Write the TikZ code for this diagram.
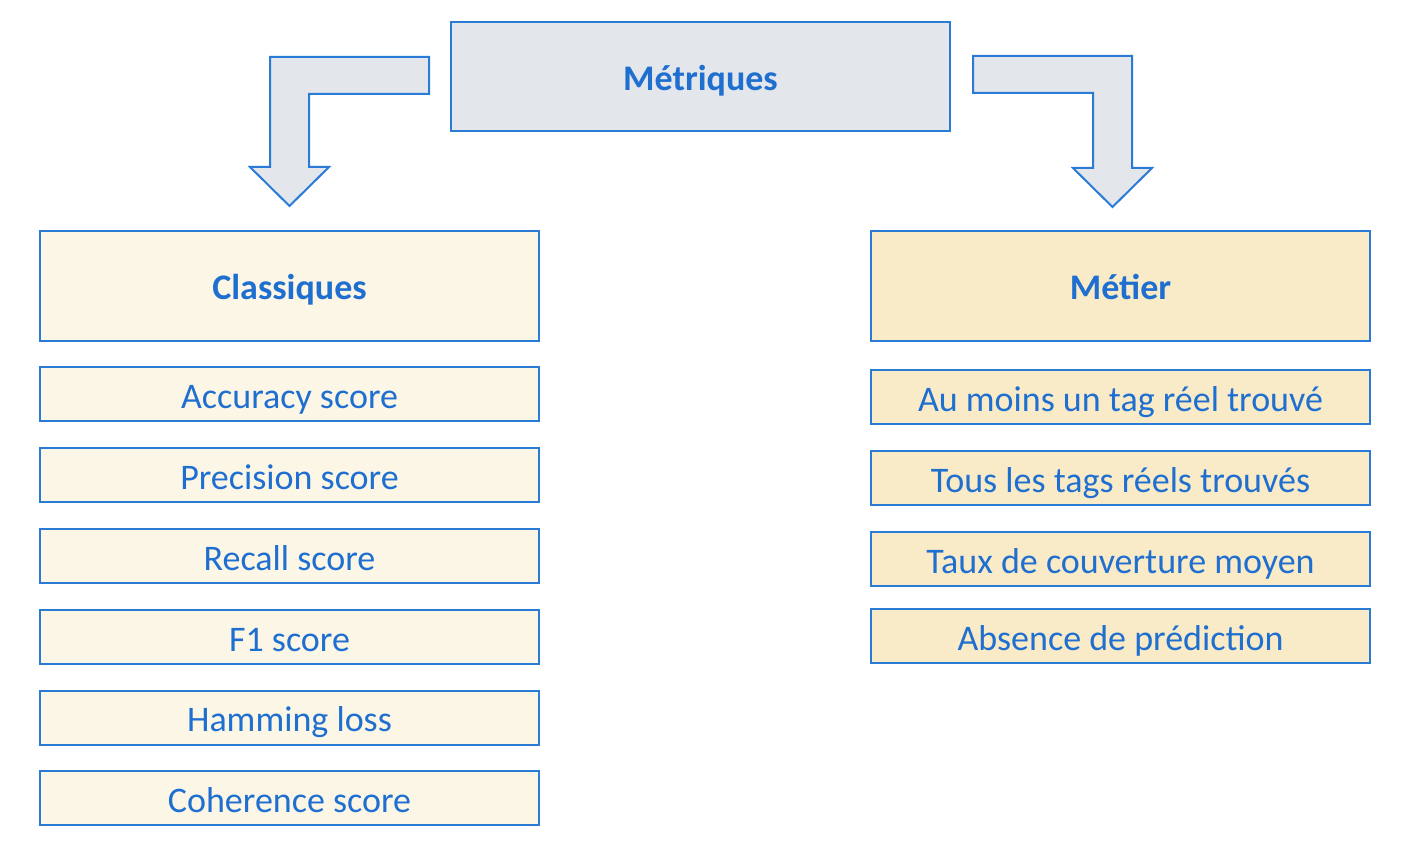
\documentclass[tikz,border=0pt]{standalone}
\usepackage{fontspec}
\setmainfont{Carlito}
\definecolor{bordc}{HTML}{2A7BD6}
\definecolor{txtc}{HTML}{1F6FD0}
\definecolor{grayf}{HTML}{E3E6EA}
\definecolor{lightf}{HTML}{FCF6E6}
\definecolor{darkf}{HTML}{FAEBC8}
\begin{document}
\begin{tikzpicture}[x=1pt,y=-1pt,
  box/.style={draw=bordc,line width=2pt,minimum width=499pt,text=txtc,inner sep=0pt},
  head/.style={box,minimum height=110pt,font=\fontsize{36}{42}\selectfont\bfseries,text height=27pt,text depth=0pt},
  item/.style={box,minimum height=54pt,font=\fontsize{36}{42}\selectfont,text height=28pt,text depth=0pt},
  bent/.style={draw=bordc,line width=2pt,fill=grayf,line join=miter}]
\useasboundingbox (0,0) rectangle (1403,856);
\node[head,fill=grayf,minimum width=499pt,minimum height=109pt,text height=28pt] (met) at (700.5,76.5) {Métriques};
\node[head,fill=lightf] (cla) at (289.5,286) {Classiques};
\node[head,fill=darkf] (mti) at (1120.5,286) {Métier};
\node[item,fill=lightf] (c1) at (289.5,394) {Accuracy score};
\node[item,fill=lightf] (c2) at (289.5,475) {Precision score};
\node[item,fill=lightf] (c3) at (289.5,556) {Recall score};
\node[item,fill=lightf] (c4) at (289.5,637) {F1 score};
\node[item,fill=lightf] (c5) at (289.5,717.5) {Hamming loss};
\node[item,fill=lightf] (c6) at (289.5,798) {Coherence score};
\node[item,fill=darkf] (m1) at (1120.5,397) {Au moins un tag réel trouvé};
\node[item,fill=darkf] (m2) at (1120.5,478) {Tous les tags réels trouvés};
\node[item,fill=darkf] (m3) at (1120.5,559) {Taux de couverture moyen};
\node[item,fill=darkf] (m4) at (1120.5,636) {Absence de prédiction};
% bent arrows
\draw[bent] (429,57) -- (270,57) -- (270,167) -- (250,167) -- (289.5,206) -- (329,167) -- (309,167) -- (309,94) -- (429,94) -- cycle;
\draw[bent] (973,56) -- (1132,56) -- (1132,168) -- (1152,168) -- (1112.5,207) -- (1073,168) -- (1093,168) -- (1093,93) -- (973,93) -- cycle;
\end{tikzpicture}
\end{document}
